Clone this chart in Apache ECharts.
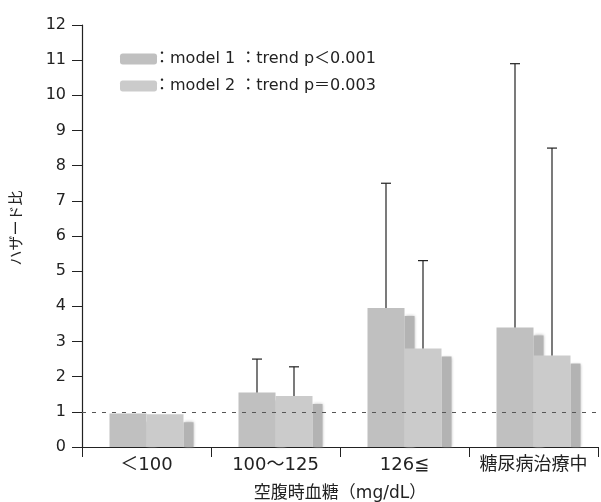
<!DOCTYPE html>
<html>
<head>
<meta charset="utf-8">
<script src="https://cdn.jsdelivr.net/npm/echarts@6/dist/echarts.min.js"></script>
<style>
  html, body { margin: 0; padding: 0; background: #fff; }
  #main { width: 601px; height: 502px; }
</style>
</head>
<body>
<div id="main"></div>
<script>
// 空腹時血糖カテゴリ
var categories = ['＜100', '100～125', '126≦', '糖尿病治療中'];
var seriesNames = ['：model 1 ：trend p＜0.001', '：model 2 ：trend p＝0.003'];
// ハザード比
var model1 = [0.95, 1.55, 3.95, 3.4];
var model2 = [0.93, 1.45, 2.8, 2.6];
// 95%CI 上限 (＜100 は基準なので無し)
var upper1 = [null, 2.5, 7.5, 10.9];
var upper2 = [null, 2.28, 5.3, 8.5];
var yTicks = [0, 1, 2, 3, 4, 5, 6, 7, 8, 9, 10, 11, 12];

var FONT = "'DejaVu Sans', 'Noto Sans CJK JP', sans-serif";
var BAR_W = 37;
var colors = ['#c0c0c0', '#cbcbcb'];

var chart = echarts.init(document.getElementById('main'), null, { renderer: 'canvas' });

// 棒の右側の影
function shadowItem(idx) {
  return function (params, api) {
    var cat = api.value(0), val = api.value(1);
    var p = api.coord([cat, val]);
    var p0 = api.coord([cat, 0]);
    var xRight = p[0] + (idx === 0 ? 0 : BAR_W);
    return {
      type: 'rect',
      shape: { x: xRight, y: p[1] + 8, width: 10, height: p0[1] - p[1] - 8 },
      style: { fill: '#b3b3b3', shadowBlur: 3, shadowColor: '#b3b3b3' }
    };
  };
}

// エラーバー (上側のみ)
function errItem(idx) {
  return function (params, api) {
    var cat = api.value(0);
    if (api.value(2) == null || isNaN(api.value(2))) return;
    var off = idx === 0 ? -BAR_W / 2 : BAR_W / 2;
    var pb = api.coord([cat, api.value(1)]);
    var pt = api.coord([cat, api.value(2)]);
    var x = pb[0] + off;
    var st = { stroke: '#222', lineWidth: 1.2 };
    return {
      type: 'group',
      children: [
        { type: 'line', shape: { x1: x, y1: pb[1], x2: x, y2: pt[1] }, style: st },
        { type: 'line', shape: { x1: x - 5, y1: pt[1], x2: x + 5, y2: pt[1] }, style: st }
      ]
    };
  };
}

function toItems(vals, ups) {
  return vals.map(function (v, i) { return [i, v, ups ? ups[i] : null]; });
}

var option = {
  backgroundColor: '#ffffff',
  animation: false,
  textStyle: { fontFamily: FONT },
  grid: { left: 82, right: 3, top: 25, bottom: 55, outerBoundsMode: 'none', containLabel: false },
  legend: {
    orient: 'vertical',
    left: 115,
    top: 46,
    itemWidth: 37,
    itemHeight: 11,
    itemGap: 11,
    data: seriesNames,
    textStyle: { fontSize: 16, color: '#222', fontFamily: FONT, padding: [0, 0, 0, -8] }
  },
  xAxis: {
    type: 'category',
    data: categories,
    name: '空腹時血糖（mg/dL）',
    nameLocation: 'middle',
    nameGap: 38,
    nameTextStyle: { fontSize: 17, color: '#222' },
    axisLine: { lineStyle: { color: '#222', width: 1.2 } },
    axisTick: { show: true, interval: 0, length: 10, lineStyle: { color: '#222' } },
    axisLabel: { interval: 0, hideOverlap: false, fontSize: 18, color: '#222', margin: 9 }
  },
  yAxis: {
    type: 'value',
    min: yTicks[0],
    max: yTicks[yTicks.length - 1],
    interval: 1,
    name: 'ハザード比',
    nameLocation: 'middle',
    nameGap: 57,
    nameRotate: 90,
    nameTextStyle: { fontSize: 15, color: '#222', padding: [0, 0, 0, 16] },
    axisLine: { show: true, lineStyle: { color: '#222', width: 1.2 } },
    axisTick: { show: true, length: 10, lineStyle: { color: '#222' } },
    axisLabel: { fontSize: 16, color: '#222', margin: 16 },
    splitLine: { show: false }
  },
  series: [
    {
      type: 'custom',
      name: 'shadow1',
      z: 1,
      renderItem: shadowItem(0),
      data: toItems(model1),
      encode: { x: 0, y: 1 },
      markLine: {
        silent: true,
        symbol: 'none',
        label: { show: false },
        lineStyle: { type: [4, 6], color: '#555', width: 1 },
        data: [{ yAxis: 1 }]
      }
    },
    {
      type: 'custom',
      name: 'shadow2',
      z: 1,
      renderItem: shadowItem(1),
      data: toItems(model2),
      encode: { x: 0, y: 1 }
    },
    {
      type: 'bar',
      name: seriesNames[0],
      z: 3,
      data: model1,
      barWidth: BAR_W,
      barGap: '0%',
      itemStyle: { color: colors[0] }
    },
    {
      type: 'bar',
      name: seriesNames[1],
      z: 3,
      data: model2,
      barWidth: BAR_W,
      barGap: '0%',
      itemStyle: { color: colors[1] }
    },
    {
      type: 'custom',
      name: 'err1',
      z: 4,
      renderItem: errItem(0),
      data: toItems(model1, upper1),
      encode: { x: 0, y: 2 }
    },
    {
      type: 'custom',
      name: 'err2',
      z: 4,
      renderItem: errItem(1),
      data: toItems(model2, upper2),
      encode: { x: 0, y: 2 }
    }
  ]
};

chart.setOption(option);
</script>
</body>
</html>
